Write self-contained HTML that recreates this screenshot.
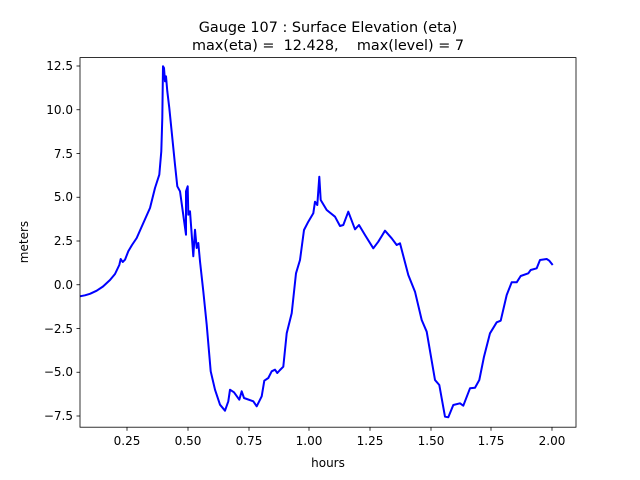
<!DOCTYPE html>
<html><head><meta charset="utf-8"><style>body{margin:0;background:#fff}svg{display:block}text{font-family:"DejaVu Sans","Liberation Sans",sans-serif;fill:#000}</style></head>
<body>
<svg width="640" height="480" xmlns="http://www.w3.org/2000/svg">
<rect width="640" height="480" fill="#fff"/>
<text x="328" y="32" font-size="14.4" text-anchor="middle">Gauge 107 : Surface Elevation (eta)</text>
<text x="328" y="50" font-size="14.4" text-anchor="middle" xml:space="preserve">max(eta) =  12.428,    max(level) = 7</text>
<polyline fill="none" stroke="#0000ff" stroke-width="2" stroke-linejoin="round" points="80,296.3 85,295.3 90,293.8 96.7,290.7 103,286.5 110,280 115,274 119.3,265 120.7,259 122.7,262 125,259.7 128.3,251.3 132,245 136.7,238 142,226 146,217 150,208 155,188 159.3,174.7 161.3,151.3 162.3,118 163,66.3 164,68 165,81.3 166,76.3 167.3,91.3 169.3,108 175,164.7 177.3,186.3 180,191.3 186,234.7 186,191.3 187.7,186.3 188.3,214.7 190,211.3 193.3,256.3 195,229.7 196.7,248 198.3,243 200,261.3 203.3,291.3 206.7,324.7 210.7,371.3 215,389.7 220,404.7 225,410.7 228.3,401.3 230,389.7 234,392.3 239.3,399.7 241.7,391.3 244,398 253.3,401.3 256.7,406.3 261.7,396.3 264.3,380.7 268.3,378 271.7,371.3 275,369.7 277.3,373 280,370 283.3,366.7 286.7,333.3 291.7,313.3 296,273.3 300,260 304,230 308.3,221.7 313.3,213.3 315,201.7 317.3,205 319.3,176.7 320.7,200 326.7,210 335,216.7 340,226 343.3,225 348.3,211.7 355,229.3 359,225 365,235 373.3,248.3 378.3,241.7 385,230.7 391.7,238.3 396.7,245 400,243.3 408.3,275 415,291.7 421.7,320 426.7,331.7 435,380 439.3,385 445,416.7 448.3,417.3 453.3,405 460,403.3 463.3,405.7 470,388.3 475,387.7 479.3,380 484,356.7 490,333.3 496.7,322.3 500.7,320.7 506.7,295 511.7,282.3 516.7,282.3 520.7,276 528.3,273.3 530.7,270 536.7,268.3 540,260 546.7,259 549.3,260.7 552.7,265"/>
<rect x="80" y="57.6" width="496" height="369.6" fill="none" stroke="#000" stroke-width="0.8"/>
<g stroke="#000" stroke-width="0.8">
<line x1="127" y1="427.2" x2="127" y2="430.7"/><line x1="188" y1="427.2" x2="188" y2="430.7"/><line x1="249" y1="427.2" x2="249" y2="430.7"/><line x1="309" y1="427.2" x2="309" y2="430.7"/><line x1="370" y1="427.2" x2="370" y2="430.7"/><line x1="431" y1="427.2" x2="431" y2="430.7"/><line x1="491" y1="427.2" x2="491" y2="430.7"/><line x1="552" y1="427.2" x2="552" y2="430.7"/>
<line x1="76.5" y1="66" x2="80" y2="66"/><line x1="76.5" y1="109.75" x2="80" y2="109.75"/><line x1="76.5" y1="153.5" x2="80" y2="153.5"/><line x1="76.5" y1="197.25" x2="80" y2="197.25"/><line x1="76.5" y1="241" x2="80" y2="241"/><line x1="76.5" y1="284.75" x2="80" y2="284.75"/><line x1="76.5" y1="328.5" x2="80" y2="328.5"/><line x1="76.5" y1="372.25" x2="80" y2="372.25"/><line x1="76.5" y1="416" x2="80" y2="416"/>
</g>
<g font-size="12" text-anchor="middle">
<text x="127" y="445">0.25</text><text x="188" y="445">0.50</text><text x="249" y="445">0.75</text><text x="309" y="445">1.00</text><text x="370" y="445">1.25</text><text x="431" y="445">1.50</text><text x="491" y="445">1.75</text><text x="552" y="445">2.00</text>
<text x="328" y="467">hours</text>
</g>
<g font-size="12" text-anchor="end">
<text x="73" y="70">12.5</text><text x="73" y="114">10.0</text><text x="73" y="158">7.5</text><text x="73" y="201">5.0</text><text x="73" y="245">2.5</text><text x="73" y="289">0.0</text><text x="73" y="333">−2.5</text><text x="73" y="376">−5.0</text><text x="73" y="420">−7.5</text>
</g>
<text x="28" y="242" font-size="12" text-anchor="middle" transform="rotate(-90 28 242)">meters</text>
</svg>
</body></html>
